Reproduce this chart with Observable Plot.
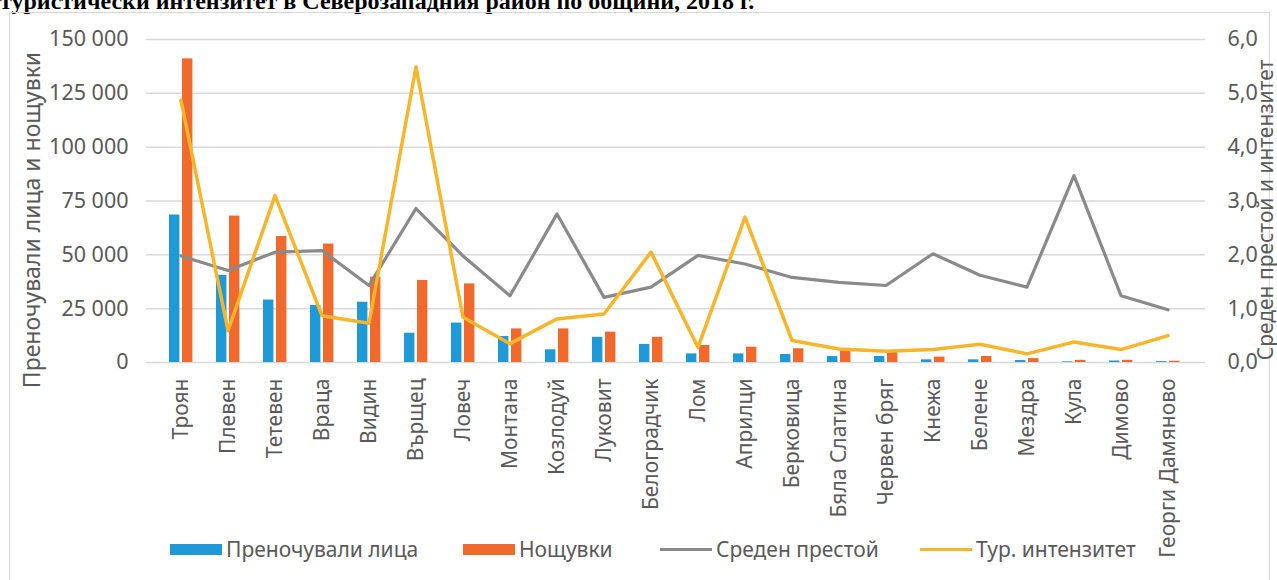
<!DOCTYPE html>
<html><head><meta charset="utf-8">
<script src="https://cdn.jsdelivr.net/npm/d3@7"></script>
<script src="https://cdn.jsdelivr.net/npm/@observablehq/plot@0.6"></script>
<style>
body{margin:0;background:#fff;width:1277px;height:580px;overflow:hidden;position:relative;font-family:"Noto Sans",sans-serif;color:#595959;}
#title{position:absolute;left:0;top:-11px;font:bold 24px "Liberation Serif",serif;white-space:nowrap;color:#000;line-height:24px;}
#frame{position:absolute;left:9px;top:12px;width:1259px;height:600px;border:1px solid #d6d6d6;}
#chart{position:absolute;left:0;top:0;}
.ylab{position:absolute;white-space:nowrap;transform:translate(-50%,-50%) rotate(-90deg);color:#595959;}
.leg{position:absolute;top:537px;font-size:21px;white-space:nowrap;display:flex;align-items:center;height:24px;color:#595959;}
.sw{display:inline-block;width:52px;margin-right:4px;}
</style></head>
<body>
<div id="title">туристически интензитет в Северозападния район по общини, 2018 г.</div>
<div id="frame"></div>
<div id="chart"></div>
<div class="ylab" style="left:31px;top:220px;font-size:23px;line-height:23px;">Преночували лица и нощувки</div>
<div class="ylab" style="left:1265px;top:210px;font-size:21px;line-height:21px;">Среден престой и интензитет</div>
<div id="legend"></div>
<script>
const towns = ["Троян","Плевен","Тетевен","Враца","Видин","Върщец","Ловеч","Монтана","Козлодуй","Луковит","Белоградчик","Лом","Априлци","Берковица","Бяла Слатина","Червен бряг","Кнежа","Белене","Мездра","Кула","Димово","Георги Дамяново"];
const guests = [68500,40500,29000,26500,28000,13600,18300,12100,5900,11700,8400,4000,4000,3700,2800,2800,1250,1250,900,300,700,400];
const nights = [141000,68000,58500,55000,39600,38100,36500,15600,15600,14100,11700,7900,7100,6400,5600,4800,2500,2800,1800,1000,1000,600];
const stay = [1.98,1.71,2.05,2.08,1.43,2.86,1.98,1.24,2.76,1.21,1.40,1.99,1.83,1.58,1.49,1.43,2.02,1.62,1.40,3.47,1.24,0.98];
const intensity = [4.87,0.59,3.10,0.87,0.73,5.49,0.84,0.35,0.81,0.90,2.05,0.28,2.70,0.41,0.25,0.21,0.24,0.34,0.16,0.38,0.24,0.50];
const leftTicks = [0,25000,50000,75000,100000,125000,150000];
const rightTicks = [0,1,2,3,4,5,6];
const seriesNames = ["Преночували лица","Нощувки","Среден престой","Тур. интензитет"];
const colors = ["#1f9ad6","#ef6a2c","#8a8a8a","#f7b52c"];

const SCALE = 25000; // right axis unit -> left axis units
const rows = towns.map((t,i)=>({town:t, guests:guests[i], nights:nights[i], stay:stay[i], intensity:intensity[i]}));
const fmtLeft = d => d3.format(",")(d).replace(/,/g, "\u00a0");
const fmtRight = d => (d/SCALE).toFixed(1).replace(".", ",");

const chart = Plot.plot({
  width: 1277, height: 580,
  marginLeft: 146, marginRight: 72, marginTop: 39, marginBottom: 218,
  style: {fontFamily: '"Noto Sans", sans-serif', fontSize: "20px", color: "#595959", background: "transparent", overflow: "visible"},
  x: {domain: towns, type: "band", padding: 0, insetLeft: 4, insetRight: 7},
  y: {domain: [0, 150000]},
  marks: [
    Plot.gridY(leftTicks, {stroke: "#d9d9d9", strokeOpacity: 1, strokeWidth: 1.5}),
    Plot.barY(rows, {x: "town", y: "guests", fill: colors[0], insetLeft: 12, insetRight: 24.6}),
    Plot.barY(rows, {x: "town", y: "nights", fill: colors[1], insetLeft: 25, insetRight: 11.6}),
    Plot.line(rows, {x: "town", y: d => d.stay * SCALE, stroke: colors[2], strokeWidth: 3.2, strokeLinejoin: "round"}),
    Plot.line(rows, {x: "town", y: d => d.intensity * SCALE, stroke: colors[3], strokeWidth: 3.5, strokeLinejoin: "round"}),
    Plot.axisY({ticks: leftTicks, tickFormat: fmtLeft, tickSize: 0, tickPadding: 18, label: null, fill: "#595959", fontSize: 21.5}),
    Plot.axisY({anchor: "right", ticks: rightTicks.map(v => v*SCALE), tickFormat: fmtRight, tickSize: 0, tickPadding: 22, label: null, fill: "#595959", fontSize: 21.5}),
    Plot.axisX({tickRotate: -90, tickSize: 0, tickPadding: 16, label: null, fill: "#595959", fontSize: 21})
  ]
});
document.getElementById("chart").appendChild(chart);

const legendPos = [170, 463, 660, 920];
const leg = document.getElementById("legend");
seriesNames.forEach((n,i) => {
  const d = document.createElement("div");
  d.className = "leg";
  d.style.left = legendPos[i] + "px";
  const sw = document.createElement("span");
  sw.className = "sw";
  sw.style.background = colors[i];
  sw.style.height = i < 2 ? "11px" : "3px";
  d.appendChild(sw);
  d.appendChild(document.createTextNode(n));
  leg.appendChild(d);
});
</script>
</body></html>
